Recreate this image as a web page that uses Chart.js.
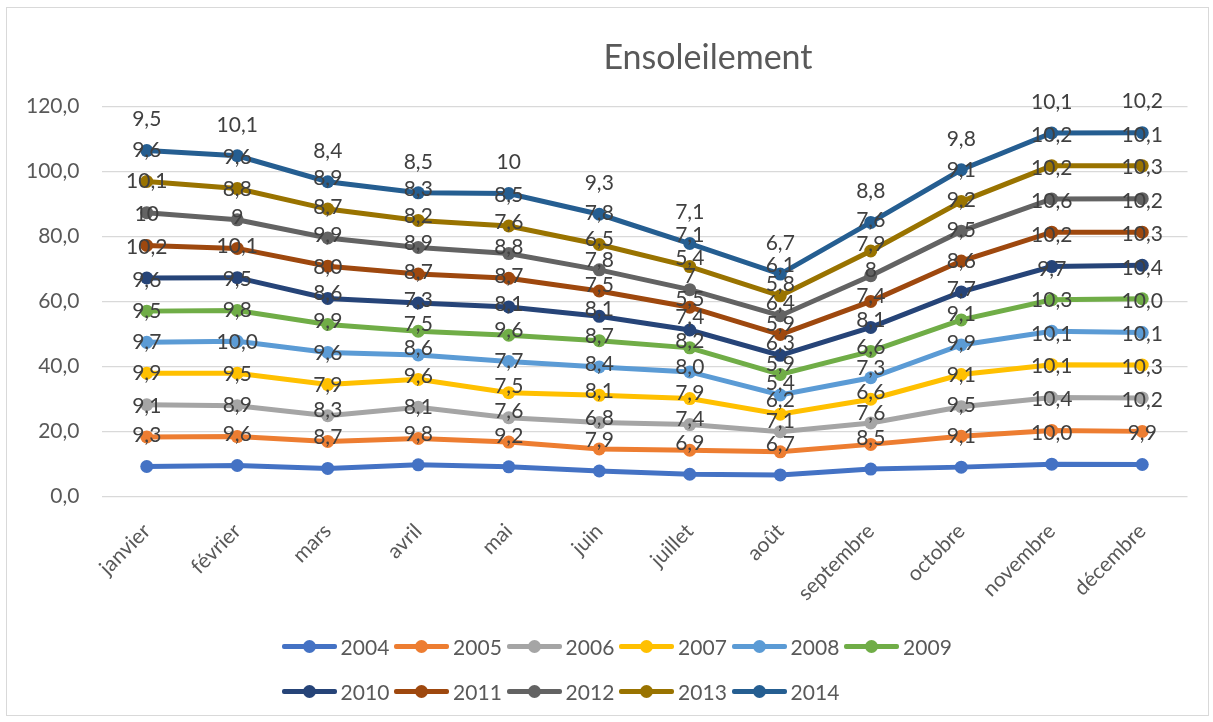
<!DOCTYPE html>
<html lang="fr">
<head>
<meta charset="utf-8">
<title>Ensoleilement</title>
<script src="https://cdn.jsdelivr.net/npm/chart.js@4.4.1/dist/chart.umd.min.js"></script>
<style>
	html, body { margin: 0; padding: 0; background: #fff; }
	#wrap { position: relative; width: 1213px; height: 722px; overflow: hidden; font-family: Lato, "Noto Sans", sans-serif; }
	#frame { position: absolute; left: 6px; top: 7px; width: 1201px; height: 707px; border: 1px solid #d9d9d9; pointer-events: none; }
	#chart { position: absolute; left: 0; top: 0; }
	#title { position: absolute; left: 0; width: 1416px; top: 35px; text-align: center; font-size: 34px; color: #595959; line-height: 42px; }
	.legend-item { position: absolute; height: 26px; display: flex; align-items: center; font-size: 21px; color: #595959; white-space: nowrap; }
	.legend-mark { position: relative; width: 55px; height: 5px; border-radius: 2px; margin-right: 4px; }
	.legend-mark::after { content: ""; position: absolute; left: 21px; top: -4px; width: 13px; height: 13px; border-radius: 50%; background: inherit; }
</style>
</head>
<body>
<div id="wrap">
	<canvas id="chart" width="1213" height="722"></canvas>
	<div id="title">Ensoleilement</div>
	<div id="legend"></div>
	<div id="frame"></div>
</div>
<script>
// ─── Données (heures d'ensoleillement par jour, moyennes mensuelles) ───
const months = ["janvier", "février", "mars", "avril", "mai", "juin", "juillet", "août", "septembre", "octobre", "novembre", "décembre"];
const yTicks = [0, 20, 40, 60, 80, 100, 120];

const y2004 = [9.3, 9.6, 8.7, 9.8, 9.2, 7.9, 6.9, 6.7, 8.5, 9.1, 10.0, 9.9];
const y2005 = [9.1, 8.9, 8.3, 8.1, 7.6, 6.8, 7.4, 7.1, 7.6, 9.5, 10.4, 10.2];
const y2006 = [9.9, 9.5, 7.9, 9.6, 7.5, 8.1, 7.9, 6.2, 6.6, 9.1, 10.1, 10.3];
const y2007 = [9.7, 10.0, 9.6, 8.6, 7.7, 8.4, 8.0, 5.4, 7.3, 9.9, 10.1, 10.1];
const y2008 = [9.5, 9.8, 9.9, 7.5, 9.6, 8.7, 8.2, 5.9, 6.6, 9.1, 10.3, 10.0];
const y2009 = [9.6, 9.5, 8.6, 7.3, 8.1, 8.1, 7.4, 6.3, 8.1, 7.7, 9.7, 10.4];
const y2010 = [10.2, 10.1, 8.0, 8.7, 8.7, 7.5, 5.5, 5.9, 7.4, 8.6, 10.2, 10.3];
const y2011 = [10, 9, 9.9, 8.9, 8.8, 7.8, 7, 6.4, 8, 9.5, 10.6, 10.2];
const y2012 = [10.1, 8.8, 8.7, 8.2, 7.6, 6.5, 5.4, 5.8, 7.9, 9.2, 10.2, 10.3];
const y2013 = [9.6, 9.6, 8.9, 8.3, 8.5, 7.8, 7.1, 6.1, 7.6, 9.1, 10.2, 10.1];
const y2014 = [9.5, 10.1, 8.4, 8.5, 10, 9.3, 7.1, 6.7, 8.8, 9.8, 10.1, 10.2];

const years = ["2004", "2005", "2006", "2007", "2008", "2009", "2010", "2011", "2012", "2013", "2014"];
const values = [y2004, y2005, y2006, y2007, y2008, y2009, y2010, y2011, y2012, y2013, y2014];
const colors = ["#4472C4", "#ED7D31", "#A5A5A5", "#FFC000", "#5B9BD5", "#70AD47", "#264478", "#9E480E", "#636363", "#997300", "#255E91"];
// séries en format "Standard" (entiers affichés sans décimale)
const generalFormat = ["2011", "2014"];

// ─── Helpers ───
const FONT = "Lato, 'Noto Sans', sans-serif";
const fr1 = (v) => v.toFixed(1).replace(".", ",");
const frGeneral = (v) => String(v).replace(".", ",");

// étiquettes de données, placées au-dessus de chaque point
const pointLabels = {
	id: "pointLabels",
	afterDatasetsDraw(chart) {
		const ctx = chart.ctx;
		ctx.save();
		ctx.font = `21px ${FONT}`;
		ctx.fillStyle = "#404040";
		ctx.textAlign = "center";
		ctx.textBaseline = "middle";
		chart.data.datasets.forEach((ds, i) => {
			const meta = chart.getDatasetMeta(i);
			const fmt = generalFormat.includes(ds.label) ? frGeneral : fr1;
			meta.data.forEach((pt, j) => {
				ctx.fillText(fmt(ds.data[j]), pt.x, pt.y - 31);
			});
		});
		ctx.restore();
	},
};

const datasets = years.map((y, i) => ({
	label: y,
	data: values[i],
	borderColor: colors[i],
	backgroundColor: colors[i],
	borderWidth: 5,
	pointRadius: 6.5,
	pointBorderWidth: 0,
	pointHoverRadius: 6.5,
	tension: 0,
	fill: false,
}));

new Chart(document.getElementById("chart"), {
	type: "line",
	data: { labels: months, datasets },
	plugins: [pointLabels],
	options: {
		responsive: false,
		animation: false,
		layout: { padding: { top: 106.7, right: 25.5, left: 0, bottom: 0 } },
		plugins: {
			legend: { display: false },
			tooltip: { enabled: false },
		},
		scales: {
			x: {
				offset: true,
				grid: { display: false, drawTicks: false },
				border: { display: false },
				ticks: {
					color: "#595959",
					font: { family: FONT, size: 21 },
					minRotation: 45,
					maxRotation: 45,
					padding: 22,
				},
				afterFit: (s) => { s.height = 722 - 496.7; },
			},
			y: {
				stacked: true,
				min: yTicks[0],
				max: yTicks[yTicks.length - 1],
				afterBuildTicks: (s) => { s.ticks = yTicks.map((v) => ({ value: v })); },
				grid: { color: "#d9d9d9", lineWidth: 1.3, drawTicks: false },
				border: { display: false },
				ticks: {
					color: "#595959",
					font: { family: FONT, size: 21 },
					padding: 22,
					callback: (v) => fr1(v),
				},
				afterFit: (s) => { s.width = 101.5; },
			},
		},
	},
});

// ─── Légende (deux lignes alignées à gauche, comme Excel) ───
const legend = document.getElementById("legend");
legend.innerHTML = years
	.map((y, i) => {
		const col = i < 6 ? i : i - 6;
		const top = (i < 6 ? 646 : 691) - 13;
		const left = 281.6 + col * 112.5;
		return `<div class="legend-item" style="left:${left}px;top:${top}px">
			<span class="legend-mark" style="background:${colors[i]}"></span>${y}
		</div>`;
	})
	.join("");
</script>
</body>
</html>
